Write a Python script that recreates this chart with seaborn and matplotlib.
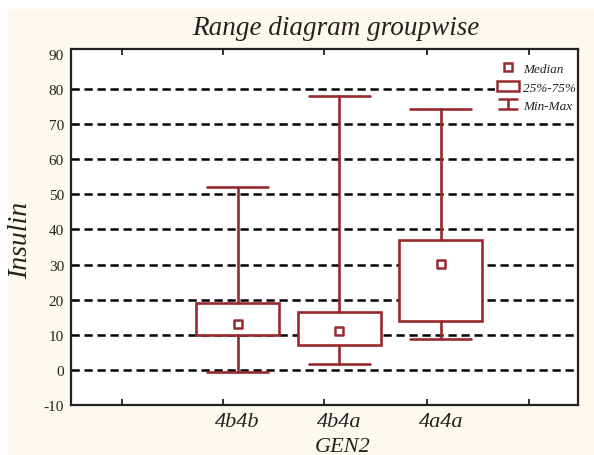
import numpy as np
import pandas as pd
import matplotlib
matplotlib.use("Agg")
import matplotlib.pyplot as plt
from matplotlib.lines import Line2D
from matplotlib.patches import Rectangle
from matplotlib.path import Path
import seaborn as sns

# ---- data ----
groups = ["4b4b", "4b4a", "4a4a"]
mins = [-0.5, 1.8, 8.8]
q1s = [10.0, 7.1, 13.8]
medians = [13.1, 11.2, 30.3]
q3s = [19.1, 16.4, 37.0]
maxs = [52.0, 78.0, 74.4]
y_ticks = [-10, 0, 10, 20, 30, 40, 50, 60, 70, 80, 90]
grid_levels = [0, 10, 20, 30, 40, 50, 60, 70, 80]

sns.set_theme(style="white")
plt.rcParams["font.family"] = ["Liberation Serif", "DejaVu Serif"]

RED = "#962a2e"
CREAM = "#fdf9ef"
INK = "#222222"

fig = plt.figure(figsize=(5.94, 4.56), dpi=100, facecolor="white")
fig.patches.append(Rectangle((8 / 594, 0), 1, 1 - 10 / 456, transform=fig.transFigure,
                             facecolor=CREAM, edgecolor="none", zorder=-10))
W, H = 594, 456
ax = fig.add_axes([71 / W, 1 - 406 / H, (578 - 71) / W, (406 - 50) / H])
ax.set_facecolor("white")

# dashed reference lines
ax.hlines(grid_levels, 0, 1, transform=ax.get_yaxis_transform(), colors="black",
          linewidth=1.8, linestyles=[(0, (3.3, 1.9))], zorder=1)

positions = np.arange(1, len(groups) + 1)
stats = [dict(med=m, q1=a, q3=b, whislo=lo, whishi=hi, fliers=[], label=g)
         for g, lo, a, m, b, hi in zip(groups, mins, q1s, medians, q3s, maxs)]
ax.bxp(stats, positions=positions, widths=0.82, capwidths=0.6, patch_artist=True,
       showfliers=False,
       boxprops=dict(facecolor="white", edgecolor=RED, linewidth=1.9, zorder=3),
       whiskerprops=dict(color=RED, linewidth=1.9, zorder=3),
       capprops=dict(color=RED, linewidth=1.9, zorder=3),
       medianprops=dict(visible=False))

df = pd.DataFrame({"pos": positions, "median": medians})
sns.scatterplot(data=df, x="pos", y="median", marker="s", s=30, facecolor="white",
                edgecolor=RED, linewidth=1.8, zorder=4, ax=ax, legend=False)

ax.set_xlim(-0.64, 4.35)
ax.set_ylim(-10, 91.4)

ax.set_yticks(y_ticks)
ax.set_yticklabels([str(v) for v in y_ticks])
ax.grid(False)
ax.tick_params(axis="y", which="both", length=0, labelsize=11, pad=5, colors=INK)

ax.set_xticks(positions)
ax.set_xticklabels(groups, fontstyle="italic", fontsize=16)
ax.set_xticks([-0.138, 0.857, 1.852, 2.867, 3.872], minor=True)
ax.tick_params(axis="x", which="major", length=0, pad=5, colors=INK)
ax.tick_params(axis="x", which="minor", direction="in", length=4, width=1.3,
               top=True, bottom=True, color=INK)

for sp in ax.spines.values():
    sp.set_color(INK)
    sp.set_linewidth(1.6)
    sp.set_visible(True)
    sp.set_zorder(10)

ax.set_xlabel("GEN2", fontstyle="italic", fontsize=16, color=INK)
ax.xaxis.set_label_coords((343 - 71) / 507, -(438 - 406) / 356)
ax.set_ylabel("Insulin", fontstyle="italic", fontsize=20, color=INK)
ax.yaxis.set_label_coords(-(71 - 33) / 507, 1 - (240 - 50) / 356)

fig.text(336 / W, 1 - 35 / H, "Range diagram groupwise", ha="center", va="baseline",
         fontstyle="italic", fontsize=19.5, color=INK)

# legend
v = np.array([[-1, 0.5], [1, 0.5], [0, 0.5], [0, -0.5], [-1, -0.5], [1, -0.5]])
codes = [Path.MOVETO, Path.LINETO, Path.MOVETO, Path.LINETO, Path.MOVETO, Path.LINETO]
minmax_marker = Path(v, codes)
handles = [
    Line2D([], [], ls="", marker="s", ms=5.5, mfc="white", mec=RED, mew=1.8),
    Rectangle((0, 0), 1, 1, facecolor="white", edgecolor=RED, linewidth=1.8),
    Line2D([], [], ls="", marker=minmax_marker, ms=15, mec=RED, mew=1.8, mfc="none"),
]
labels = ["Median", "25%-75%", "Min-Max"]
leg = ax.legend(handles, labels, loc="upper right", bbox_to_anchor=(1.0, 0.968),
                frameon=True, fancybox=False, framealpha=1.0, borderpad=0.15,
                prop=dict(family="Liberation Serif", style="italic", size=9.5),
                handlelength=1.65, handleheight=0.8, handletextpad=0.3, labelspacing=0.45,
                borderaxespad=0.0)
leg.get_frame().set_facecolor("white")
leg.get_frame().set_edgecolor("none")
leg.set_zorder(5)
for t in leg.get_texts():
    t.set_color(INK)

fig.savefig("out.png", dpi=100, facecolor=fig.get_facecolor())
